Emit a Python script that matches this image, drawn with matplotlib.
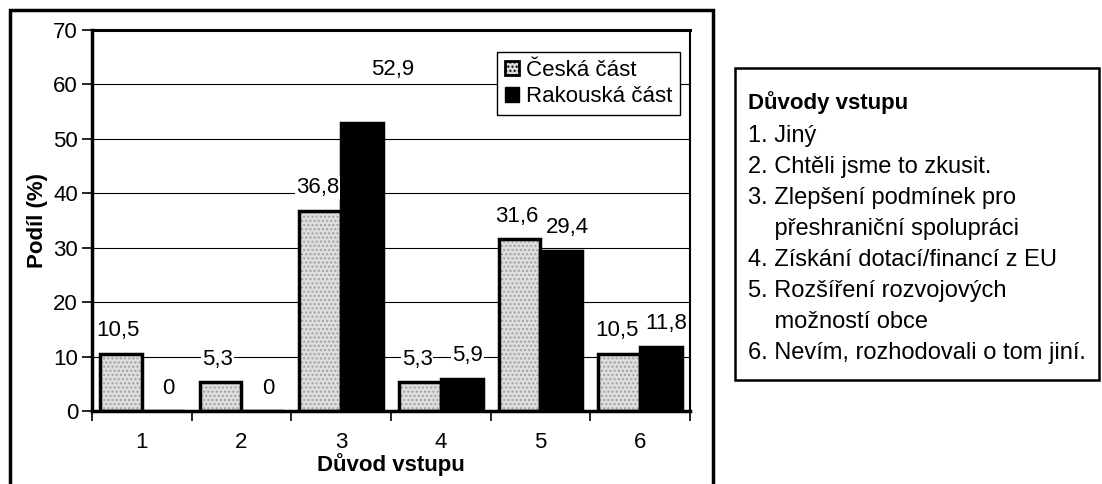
import matplotlib
matplotlib.use("Agg")
import matplotlib.pyplot as plt
from matplotlib.patches import Rectangle, Patch
import numpy as np

plt.rcParams['font.family'] = ['Liberation Sans', 'DejaVu Sans']

# data
duvody = ["1", "2", "3", "4", "5", "6"]
ceska = [10.5, 5.3, 36.8, 5.3, 31.6, 10.5]
rakouska = [0, 0, 52.9, 5.9, 29.4, 11.8]
serie = ["Česká část", "Rakouská část"]
nadpis_boxu = "Důvody vstupu"
popisky = ["1. Jiný", "2. Chtěli jsme to zkusit.", "3. Zlepšení podmínek pro",
           "    přeshraniční spolupráci", "4. Získání dotací/financí z EU",
           "5. Rozšíření rozvojových", "    možností obce",
           "6. Nevím, rozhodovali o tom jiní."]

W, H = 1102, 484
fig = plt.figure(figsize=(W / 100, H / 100), dpi=100)


def box(x0, y0, x1, y1):
    return [x0 / W, 1 - y1 / H, (x1 - x0) / W, (y1 - y0) / H]


ax = fig.add_axes(box(92, 30, 690, 411))
x = np.arange(len(duvody))
bw = 0.42
GREY = "#dedede"
ax.bar(x - bw / 2, ceska, bw, facecolor=GREY, hatch="....", edgecolor="#a0a0a0", lw=0, zorder=2)
ax.bar(x - bw / 2, ceska, bw, facecolor="none", edgecolor="black", lw=2.5, zorder=3)
ax.bar(x + bw / 2, rakouska, bw, facecolor="black", edgecolor="black", lw=2.5, zorder=3)


def fmt(v):
    return "0" if v == 0 else f"{v:.1f}".replace(".", ",")


vmax = max(rakouska)
for xs, vals, dx in ((x - bw / 2, ceska, -2), (x + bw / 2, rakouska, 4)):
    for xi, v in zip(xs, vals):
        off = (22, 31) if v == vmax else (dx, 9)   # top label sits higher, as in the source
        ax.annotate(fmt(v), (xi, v), xytext=off, textcoords="offset points",
                    ha="center", va="bottom", fontsize=16, zorder=5,
                    bbox=dict(fc="white", ec="none", pad=0.6))

ax.set_xlim(-0.5, 5.5)
ax.set_ylim(0, 70)
ax.set_yticks(range(0, 71, 10))
ax.yaxis.grid(True, color="black", lw=0.8)
ax.set_axisbelow(True)
ax.set_xticks(np.arange(-0.5, 6, 1))
ax.set_xticklabels([])
ax.set_xticks(x, minor=True)
ax.set_xticklabels(duvody, minor=True)
ax.tick_params(axis="x", which="major", length=7, width=1.2, direction="out")
ax.tick_params(axis="x", which="minor", length=0, pad=15, labelsize=16)
ax.tick_params(axis="y", length=7, width=1.2, labelsize=16, pad=3)
for s, w in (("left", 2.5), ("bottom", 2.5), ("top", 2.2), ("right", 1.5)):
    ax.spines[s].set_linewidth(w)
ax.set_xlabel("Důvod vstupu", fontsize=16, fontweight="bold", labelpad=0)
ax.set_ylabel("Podíl (%)", fontsize=16, fontweight="bold", labelpad=4)

handles = [Patch(facecolor=GREY, hatch="....", edgecolor="black", lw=2),
           Patch(facecolor="black", edgecolor="black")]
leg = ax.legend(handles, serie, loc="upper right", bbox_to_anchor=(680 / W, 1 - 52 / H),
                bbox_transform=fig.transFigure, fontsize=16, frameon=True, fancybox=False,
                edgecolor="black", framealpha=1, handlelength=0.65, handleheight=0.65,
                handletextpad=0.3, borderpad=0.35, labelspacing=0.25, borderaxespad=0)
leg.get_frame().set_linewidth(1)

# outer chart frame (bottom edge cut off)
fig.patches.append(Rectangle((10 / W, -0.05), (713 - 10) / W, 1.05 - 10 / H,
                             transform=fig.transFigure, fill=False, lw=2.5, ec="black"))
# right text box
fig.patches.append(Rectangle((735 / W, 1 - 380 / H), (1099 - 735) / W, (380 - 68) / H,
                             transform=fig.transFigure, fill=False, lw=1.8, ec="black"))
fig.text(748 / W, 1 - 103 / H, nadpis_boxu, fontsize=16, fontweight="bold", va="center")
for i, t in enumerate(popisky):
    fig.text(748 / W, 1 - (136 + 31 * i) / H, t, fontsize=17, va="center")

fig.savefig("out.png", dpi=100)
